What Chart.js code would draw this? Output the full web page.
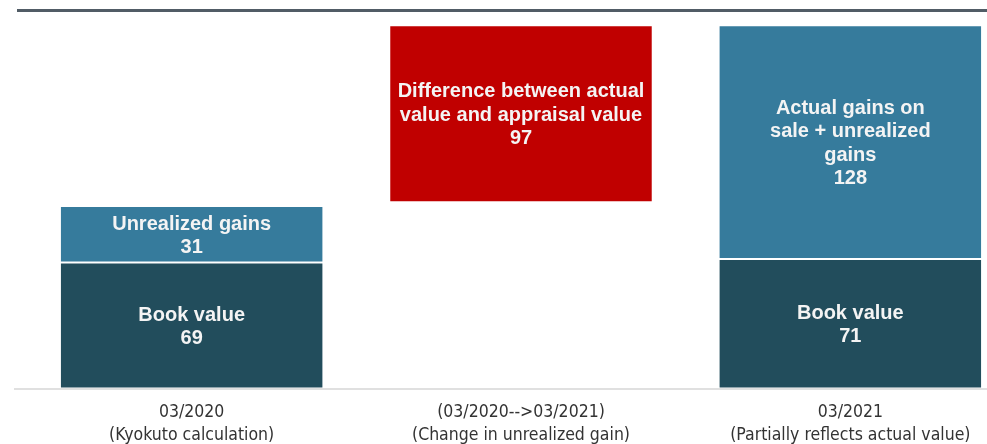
<!DOCTYPE html>
<html>
<head>
<meta charset="utf-8">
<script src="https://cdn.jsdelivr.net/npm/chart.js@4/dist/chart.umd.min.js"></script>
<style>
  html, body { margin: 0; padding: 0; background: #fff; overflow: hidden; }
  #wrap { position: relative; width: 1015px; height: 444px; }
  #topRule { position: absolute; left: 17px; right: 0; top: 9px; height: 3px; background: #515c66; }
</style>
</head>
<body>
<div id="wrap">
  <canvas id="valueChart"></canvas>
  <div id="topRule"></div>
</div>
<script>
    // Categories along the x axis (two lines each)
    const categories = [
        ['03/2020', '(Kyokuto calculation)'],
        ['(03/2020-->03/2021)', '(Change in unrealized gain)'],
        ['03/2021', '(Partially reflects actual value)']
    ];

    // Series values
    const bookValue = [69, null, 71];
    const unrealizedGains = [31, null, 128];
    const differenceRange = [null, [102, 199], null];

    // Captions written inside each segment (value is appended from the data)
    const bookCaptions = [['Book value'], null, ['Book value']];
    const gainCaptions = [['Unrealized gains'], null, ['Actual gains on', 'sale + unrealized', 'gains']];
    const diffCaptions = [null, ['Difference between actual', 'value and appraisal value'], null];

    const ctx = document.getElementById('valueChart').getContext('2d');

    // Writes the caption and value centred in each bar segment, plus the baseline
    const segmentLabels = {
        id: 'segmentLabels',
        afterDatasetsDraw(chart) {
            const c = chart.ctx;
            const y0 = chart.scales.y.getPixelForValue(0);
            c.save();
            c.strokeStyle = '#d6d6d6';
            c.lineWidth = 1.5;
            c.beginPath();
            c.moveTo(14, y0 + 0.5);
            c.lineTo(chart.width, y0 + 0.5);
            c.stroke();

            c.fillStyle = '#f4f4f4';
            c.font = 'bold 20px "Liberation Sans", Arial, sans-serif';
            c.textAlign = 'center';
            c.textBaseline = 'middle';
            const lineH = 23.5;
            chart.data.datasets.forEach((ds, di) => {
                const meta = chart.getDatasetMeta(di);
                meta.data.forEach((bar, i) => {
                    const caps = ds.captions[i];
                    const raw = ds.data[i];
                    if (!caps || raw === null) return;
                    const val = Array.isArray(raw) ? raw[1] - raw[0] : raw;
                    const lines = caps.concat([String(val)]);
                    const mid = (bar.y + bar.base) / 2 + 1.5;
                    const start = mid - (lines.length - 1) * lineH / 2;
                    lines.forEach((t, k) => c.fillText(t, bar.x, start + k * lineH));
                });
            });
            c.restore();
        }
    };

    const valueChart = new Chart(ctx, {
        type: 'bar',
        data: {
            labels: categories,
            datasets: [{
                label: 'Book value',
                data: bookValue,
                captions: bookCaptions,
                backgroundColor: '#224d5c',
                borderColor: 'rgba(255,255,255,0.6)',
                borderWidth: 1,
                borderSkipped: false
            }, {
                label: 'Unrealized gains',
                data: unrealizedGains,
                captions: gainCaptions,
                backgroundColor: '#367b9c',
                borderColor: 'rgba(255,255,255,0.6)',
                borderWidth: 1,
                borderSkipped: false
            }, {
                label: 'Difference',
                data: differenceRange,
                captions: diffCaptions,
                backgroundColor: '#c00000',
                borderColor: 'rgba(255,255,255,0.5)',
                borderWidth: 1,
                borderSkipped: false
            }]
        },
        options: {
            responsive: true,
            maintainAspectRatio: false,
            animation: false,
            layout: { padding: { left: 27, top: 5.25, right: 0, bottom: 0 } },
            barPercentage: 0.8,
            categoryPercentage: 1,
            plugins: {
                legend: { display: false },
                tooltip: { enabled: false }
            },
            scales: {
                x: {
                    stacked: true,
                    grid: { display: false },
                    border: { display: false },
                    ticks: {
                        color: '#333333',
                        padding: 4,
                        maxRotation: 0,
                        autoSkip: false,
                        font: { family: '"Liberation Sans Narrow", "Arial Narrow", "DejaVu Sans Condensed", sans-serif', size: 17.5, lineHeight: 1.32 }
                    },
                    afterFit(scale) { scale.height = 55.5; }
                },
                y: {
                    stacked: true,
                    display: false,
                    min: 0,
                    max: 210
                }
            }
        },
        plugins: [segmentLabels]
    });
</script>
</body>
</html>
